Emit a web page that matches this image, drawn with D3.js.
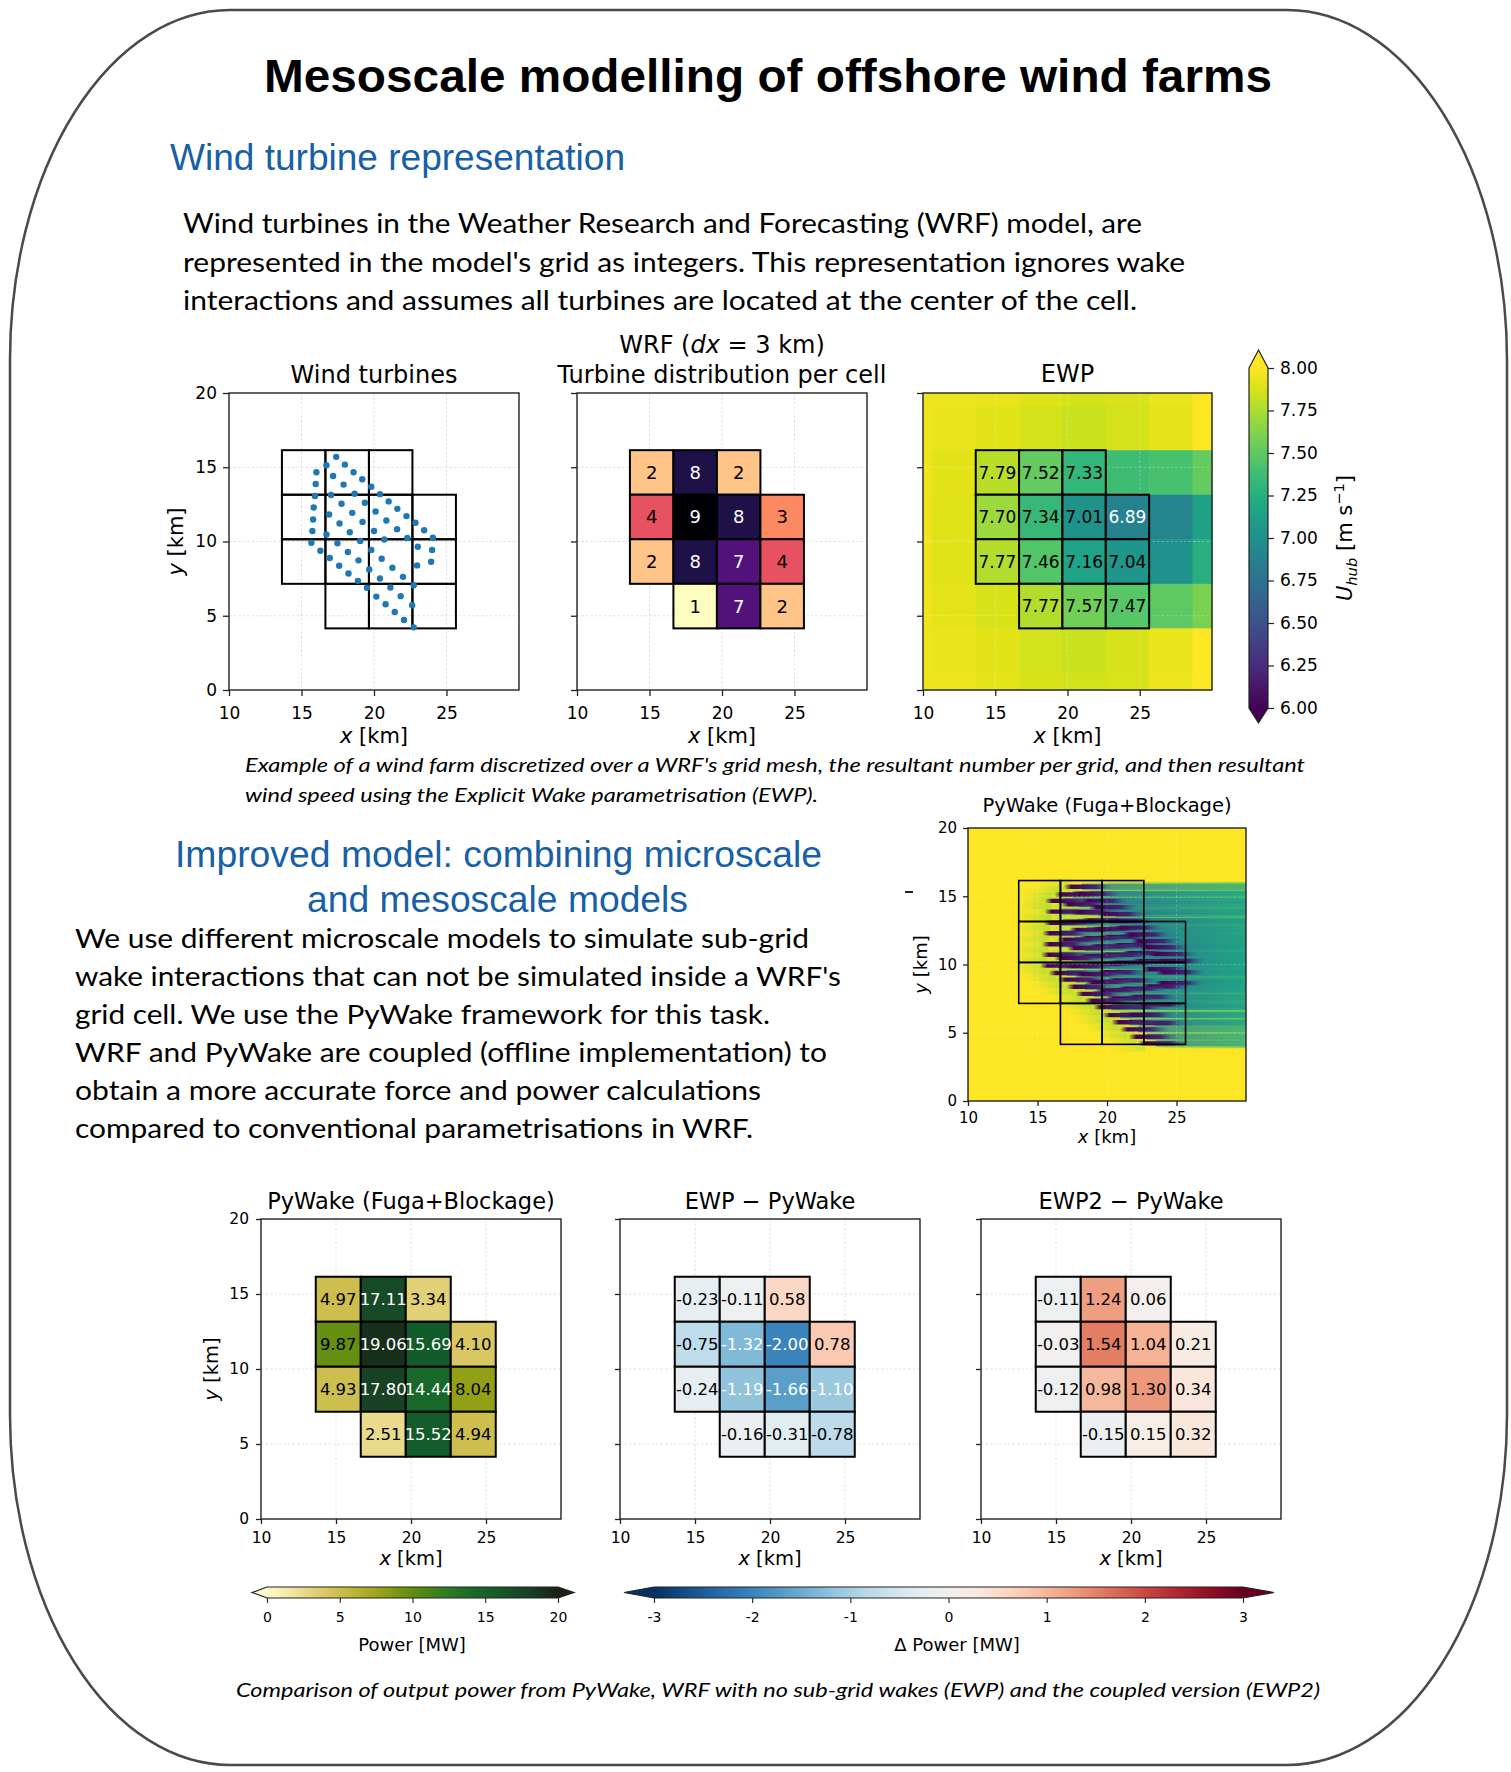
<!DOCTYPE html>
<html>
<head>
<meta charset="utf-8">
<script src="https://cdn.jsdelivr.net/npm/d3@7"></script>
<style>
  html, body { margin: 0; padding: 0; background: #fff; }
  svg { display: block; }
</style>
</head>
<body>
<svg id="poster" width="1511" height="1772"></svg>
<script>
// ---- values ----
const xTicks = [10, 15, 20, 25];
const yTicks = [0, 5, 10, 15, 20];
const gridX = [15, 20, 25];
const gridY = [5, 10, 15];

// WRF cells (3 km) : column and row edges in km, rows listed top to bottom
const cellColEdges = [13.65, 16.65, 19.65, 22.65, 25.65];
const cellRowEdges = [16.15, 13.15, 10.15, 7.15, 4.15];
const cellRow = [0, 0, 0, 1, 1, 1, 1, 2, 2, 2, 2, 3, 3, 3];
const cellCol = [0, 1, 2, 0, 1, 2, 3, 0, 1, 2, 3, 1, 2, 3];

const turbineCount = [2, 8, 2, 4, 9, 8, 3, 2, 8, 7, 4, 1, 7, 2];
const ewpSpeed = [7.79, 7.52, 7.33, 7.70, 7.34, 7.01, 6.89, 7.77, 7.46, 7.16, 7.04, 7.77, 7.57, 7.47];
const pywakePower = [4.97, 17.11, 3.34, 9.87, 19.06, 15.69, 4.10, 4.93, 17.80, 14.44, 8.04, 2.51, 15.52, 4.94];
const ewpMinusPywake = [-0.23, -0.11, 0.58, -0.75, -1.32, -2.00, 0.78, -0.24, -1.19, -1.66, -1.10, -0.16, -0.31, -0.78];
const ewp2MinusPywake = [-0.11, 1.24, 0.06, -0.03, 1.54, 1.04, 0.21, -0.12, 0.98, 1.30, 0.34, -0.15, 0.15, 0.32];

// turbine positions [km]
const turbineX = [17.39, 16.72, 17.99, 16.03, 18.59, 17.18, 19.19, 15.98, 17.90, 19.81, 15.93, 17.04, 18.66, 20.41,
  17.76, 19.37, 21.01, 15.84, 20.11, 21.61, 18.50, 16.90, 22.24, 15.80, 20.85, 19.21, 17.62, 22.86, 21.59, 20.00,
  18.33, 23.46, 15.75, 16.72, 22.30, 24.06, 20.71, 19.05, 15.68, 17.48, 23.02, 19.81, 24.01, 16.30, 18.20, 20.53,
  16.95, 18.93, 23.94, 22.97, 21.27, 19.67, 17.60, 18.24, 22.00, 20.41, 18.89, 22.74, 21.13, 19.51, 20.16, 21.84,
  22.63, 20.80, 21.43, 22.07, 22.74];
const turbineY = [15.70, 15.13, 15.18, 14.66, 14.66, 14.41, 14.19, 13.87, 13.83, 13.69, 13.06, 13.13, 13.22, 13.19,
  12.54, 12.61, 12.70, 12.29, 12.02, 12.20, 11.93, 11.82, 11.71, 11.48, 11.41, 11.32, 11.21, 11.26, 10.83, 10.71,
  10.62, 10.76, 10.71, 10.47, 10.24, 10.26, 10.13, 10.04, 9.92, 9.88, 9.65, 9.43, 9.43, 9.38, 9.29, 8.84,
  8.89, 8.73, 8.64, 8.39, 8.23, 8.12, 8.37, 7.85, 7.62, 7.51, 7.35, 7.06, 6.90, 6.88, 6.29, 6.32,
  5.71, 5.77, 5.25, 4.71, 4.22];

// EWP hub-height wind speed on the WRF mesh (rows top to bottom)
const ewpGridX = [10, 10.6, 13.65, 16.65, 19.65, 22.65, 25.65, 28.65, 30];
const ewpGridY = [20, 19.15, 16.15, 13.15, 10.15, 7.15, 4.15, 1.15, 0];
const ewpField = [
  [7.95, 7.94, 7.93, 7.90, 7.87, 7.89, 7.93, 8.00],
  [7.95, 7.93, 7.91, 7.87, 7.84, 7.87, 7.92, 8.00],
  [7.95, 7.91, 7.79, 7.52, 7.33, 7.38, 7.42, 7.52],
  [7.95, 7.90, 7.70, 7.34, 7.01, 6.89, 6.90, 7.14],
  [7.95, 7.90, 7.77, 7.46, 7.16, 7.04, 7.02, 7.26],
  [7.95, 7.92, 7.88, 7.77, 7.57, 7.47, 7.50, 7.60],
  [7.95, 7.93, 7.91, 7.86, 7.84, 7.88, 7.93, 8.00],
  [7.95, 7.94, 7.92, 7.88, 7.86, 7.89, 7.94, 8.00]
];

const speedTicks = [6.00, 6.25, 6.50, 6.75, 7.00, 7.25, 7.50, 7.75, 8.00];
const powerTicks = [0, 5, 10, 15, 20];
const deltaTicks = [-3, -2, -1, 0, 1, 2, 3];
// cmocean "speed"-like colours for power
const speedColours = ['#fefccd', '#ebd98c', '#cfbd4b', '#a3a614', '#5f8c10', '#2a7a22', '#0e642e', '#1b4628', '#172313'];

const introLines = [
  "Wind turbines in the Weather Research and Forecasting (WRF) model, are",
  "represented in the model's grid as integers. This representation ignores wake",
  "interactions and assumes all turbines are located at the center of the cell."
];
const caption1Lines = [
  "Example of a wind farm discretized over a WRF's grid mesh, the resultant number per grid, and then resultant",
  "wind speed using the Explicit Wake parametrisation (EWP)."
];
const heading2Lines = ["Improved model: combining microscale", "and mesoscale models"];
const bodyLines = [
  "We use different microscale models to simulate sub-grid",
  "wake interactions that can not be simulated inside a WRF's",
  "grid cell. We use the PyWake framework for this task.",
  "WRF and PyWake are coupled (offline implementation) to",
  "obtain a more accurate force and power calculations",
  "compared to conventional parametrisations in WRF."
];
const caption2 = "Comparison of output power from PyWake, WRF with no sub-grid wakes (EWP) and the coupled version (EWP2)";

// ---- drawing ----
const svg = d3.select('#poster');
const defs = svg.append('defs');
const MPL = '"DejaVu Sans", sans-serif';
const BODY = 'Lato, "Open Sans", sans-serif';
const HEAD = '"Liberation Sans", Arial, sans-serif';

svg.append('rect')
  .attr('x', 10).attr('y', 10).attr('width', 1497).attr('height', 1755)
  .attr('rx', 220).attr('ry', 350)
  .attr('fill', '#fff').attr('stroke', '#4a4a4a').attr('stroke-width', 2.5);

function fitText(str, x, y, width, family, size, opts = {}) {
  return svg.append('text')
    .attr('x', x).attr('y', y)
    .attr('textLength', width).attr('lengthAdjust', 'spacingAndGlyphs')
    .style('font-family', family).style('font-size', size + 'px')
    .style('font-weight', opts.bold ? 'bold' : 'normal')
    .style('font-style', opts.italic ? 'italic' : 'normal')
    .attr('fill', opts.color || '#000')
    .text(str);
}

// rich text: parts = [text, italic, dyPx, scale]
function richText(g, x, y, parts, size, anchor, transform) {
  const t = g.append('text').attr('x', x).attr('y', y)
    .attr('text-anchor', anchor || 'middle')
    .style('font-family', MPL).style('font-size', size + 'px').attr('fill', '#000');
  if (transform) t.attr('transform', transform);
  parts.forEach(p => {
    const s = t.append('tspan').text(p[0]);
    if (p[1]) s.style('font-style', 'italic');
    if (p[2]) s.attr('dy', p[2]);
    if (p[3]) s.style('font-size', (size * p[3]) + 'px');
  });
  return t;
}

// headings and text
fitText('Mesoscale modelling of offshore wind farms', 264, 92, 1008, HEAD, 47, { bold: true });
fitText('Wind turbine representation', 170, 170, 455, HEAD, 36, { color: '#175fa6' });
const introWidths = [959, 1002, 954];
introLines.forEach((l, i) => fitText(l, 183, 233 + i * 38.5, introWidths[i], BODY, 26));
const cap1Widths = [1060, 573];
caption1Lines.forEach((l, i) => fitText(l, 245, 772 + i * 30, cap1Widths[i], BODY, 19, { italic: true }));
fitText(heading2Lines[0], 175, 867, 647, HEAD, 36, { color: '#175fa6' });
fitText(heading2Lines[1], 307, 912, 381, HEAD, 36, { color: '#175fa6' });
const bodyWidths = [734, 766, 695, 752, 686, 678];
bodyLines.forEach((l, i) => fitText(l, 75, 948 + i * 38, bodyWidths[i], BODY, 26.5));
fitText(caption2, 236, 1697, 1084, BODY, 19.5, { italic: true });

// ---- panel helpers ----
function makePanel(x0, y0, w, h) {
  return {
    x: d3.scaleLinear().domain([10, 30]).range([x0, x0 + w]),
    y: d3.scaleLinear().domain([0, 20]).range([y0 + h, y0]),
    g: svg.append('g'),
    x0, y0, w, h
  };
}

function drawGrid(p, colour) {
  const gg = p.g.append('g').attr('stroke', colour).attr('stroke-width', 0.8).attr('stroke-dasharray', '2.5,2');
  gg.selectAll('line.gx').data(gridX).join('line').attr('class', 'gx')
    .attr('x1', d => p.x(d)).attr('x2', d => p.x(d)).attr('y1', p.y0).attr('y2', p.y0 + p.h);
  gg.selectAll('line.gy').data(gridY).join('line').attr('class', 'gy')
    .attr('y1', d => p.y(d)).attr('y2', d => p.y(d)).attr('x1', p.x0).attr('x2', p.x0 + p.w);
}

function cellRect(p, i) {
  const x1 = p.x(cellColEdges[cellCol[i]]), x2 = p.x(cellColEdges[cellCol[i] + 1]);
  const y1 = p.y(cellRowEdges[cellRow[i]]), y2 = p.y(cellRowEdges[cellRow[i] + 1]);
  return { x: x1, y: y1, w: x2 - x1, h: y2 - y1, cx: (x1 + x2) / 2, cy: (y1 + y2) / 2 };
}

function drawCells(p, values, fillFn, textFn, fs, fmt, lw) {
  const idx = d3.range(values.length);
  const cg = p.g.append('g');
  cg.selectAll('rect').data(idx).join('rect')
    .attr('x', i => cellRect(p, i).x).attr('y', i => cellRect(p, i).y)
    .attr('width', i => cellRect(p, i).w).attr('height', i => cellRect(p, i).h)
    .attr('fill', i => fillFn ? fillFn(values[i]) : 'none')
    .attr('stroke', '#000').attr('stroke-width', lw || 2);
  if (fmt) {
    cg.selectAll('text').data(idx).join('text')
      .attr('x', i => cellRect(p, i).cx).attr('y', i => cellRect(p, i).cy)
      .attr('dy', '0.36em').attr('text-anchor', 'middle')
      .style('font-family', MPL).style('font-size', fs + 'px')
      .attr('fill', i => textFn(values[i]))
      .text(i => fmt(values[i]));
  }
}

function drawAxes(p, o) {
  p.g.append('rect').attr('x', p.x0).attr('y', p.y0).attr('width', p.w).attr('height', p.h)
    .attr('fill', 'none').attr('stroke', '#222').attr('stroke-width', 1.4);
  const xa = p.g.append('g').attr('transform', `translate(0,${p.y0 + p.h})`)
    .call(d3.axisBottom(p.x).tickValues(xTicks).tickFormat(d3.format('d')).tickSize(o.tick).tickPadding(o.padX));
  const ya = p.g.append('g').attr('transform', `translate(${p.x0},0)`)
    .call(d3.axisLeft(p.y).tickValues(yTicks).tickFormat(o.yLabels ? d3.format('d') : () => '')
      .tickSize(o.tick).tickPadding(o.padY));
  [xa, ya].forEach(a => {
    a.select('.domain').remove();
    a.selectAll('line').attr('stroke', '#222').attr('stroke-width', 1.3);
    a.selectAll('text').attr('fill', '#000').style('font-family', MPL).style('font-size', o.fs + 'px');
  });
  const cx = p.x0 + p.w / 2;
  richText(p.g, cx, o.xlabY, [['x', true], [' [km]']], o.labFs);
  if (o.ylabX) {
    const cy = p.y0 + p.h / 2;
    richText(p.g, 0, 0, [['y', true], [' [km]']], o.labFs, 'middle', `translate(${o.ylabX},${cy}) rotate(-90)`);
  }
  (o.titles || []).forEach(t => richText(p.g, cx, t.y, t.parts, o.titleFs));
}

const viridis = v => d3.interpolateViridis(Math.max(0, Math.min(1, (v - 6) / 2)));
const magmaCount = n => d3.interpolateMagma(1 - (n - 1) / 8);
const powerColour = d3.scaleSequential(d3.interpolateRgbBasis(speedColours)).domain([0, 20]).clamp(true);
const deltaColour = d3.scaleSequential(t => d3.interpolateRdBu(1 - t)).domain([-3, 3]).clamp(true);

// ---- top row ----
const topAxis = { tick: 6, padX: 11, padY: 6, fs: 17, labFs: 21, titleFs: 24, xlabY: 743 };

const p1 = makePanel(229, 393, 290, 297);
drawGrid(p1, '#d9d9d9');
drawCells(p1, turbineCount, null, null, 0, null, 2);
p1.g.append('g').selectAll('circle').data(d3.range(turbineX.length)).join('circle')
  .attr('cx', i => p1.x(turbineX[i])).attr('cy', i => p1.y(turbineY[i]))
  .attr('r', 3.2).attr('fill', '#1f77b4');
drawAxes(p1, { ...topAxis, yLabels: true, ylabX: 183, titles: [{ y: 383, parts: [['Wind turbines']] }] });

const p2 = makePanel(577, 393, 290, 297);
drawGrid(p2, '#d9d9d9');
drawCells(p2, turbineCount, magmaCount, n => n >= 7 ? '#fff' : '#000', 18, d3.format('d'), 2);
drawAxes(p2, { ...topAxis, yLabels: false, titles: [
  { y: 353, parts: [['WRF ('], ['dx', true], [' = 3 km)']] },
  { y: 383, parts: [['Turbine distribution per cell']] }
] });

const p3 = makePanel(923, 393, 289, 297);
const bg = p3.g.append('g');
ewpField.forEach((row, r) => row.forEach((v, c) => {
  bg.append('rect')
    .attr('x', p3.x(ewpGridX[c])).attr('y', p3.y(ewpGridY[r]))
    .attr('width', p3.x(ewpGridX[c + 1]) - p3.x(ewpGridX[c]) + 0.5)
    .attr('height', p3.y(ewpGridY[r + 1]) - p3.y(ewpGridY[r]) + 0.5)
    .attr('fill', viridis(v));
}));
drawGrid(p3, 'rgba(255,255,255,0.35)');
drawCells(p3, ewpSpeed, viridis, v => v < 6.95 ? '#fff' : '#000', 17, d3.format('.2f'), 2);
drawAxes(p3, { ...topAxis, yLabels: false, titles: [{ y: 382, parts: [['EWP']] }] });

// viridis colour bar
const cbY = d3.scaleLinear().domain([6, 8]).range([708, 368]);
const vGrad = defs.append('linearGradient').attr('id', 'gViridis')
  .attr('x1', 0).attr('y1', 1).attr('x2', 0).attr('y2', 0);
d3.range(0, 1.0001, 0.05).forEach(t => vGrad.append('stop').attr('offset', t).attr('stop-color', d3.interpolateViridis(t)));
const cbx0 = 1249, cbx1 = 1268, cbm = (cbx0 + cbx1) / 2;
svg.append('rect').attr('x', cbx0).attr('y', cbY(8)).attr('width', cbx1 - cbx0).attr('height', cbY(6) - cbY(8))
  .attr('fill', 'url(#gViridis)');
svg.append('path').attr('d', `M${cbx0},${cbY(8)}L${cbm},350L${cbx1},${cbY(8)}Z`).attr('fill', d3.interpolateViridis(1));
svg.append('path').attr('d', `M${cbx0},${cbY(6)}L${cbm},723L${cbx1},${cbY(6)}Z`).attr('fill', d3.interpolateViridis(0));
svg.append('path')
  .attr('d', `M${cbx0},${cbY(8)}L${cbm},350L${cbx1},${cbY(8)}L${cbx1},${cbY(6)}L${cbm},723L${cbx0},${cbY(6)}Z`)
  .attr('fill', 'none').attr('stroke', '#222').attr('stroke-width', 1.2);
const cbAxis = svg.append('g').attr('transform', `translate(${cbx1},0)`)
  .call(d3.axisRight(cbY).tickValues(speedTicks).tickFormat(d3.format('.2f')).tickSize(6).tickPadding(6));
cbAxis.select('.domain').remove();
cbAxis.selectAll('line').attr('stroke', '#222').attr('stroke-width', 1.2);
cbAxis.selectAll('text').attr('fill', '#000').style('font-family', MPL).style('font-size', '17px');
richText(svg, 0, 0, [['U', true], ['hub', true, 5, 0.7], [' [m s', false, -5], ['\u22121', false, -8, 0.7], [']', false, 8]],
  21, 'middle', 'translate(1352,538) rotate(-90)');

// ---- PyWake flow field ----
const pm = makePanel(968, 828, 278, 273);
defs.append('clipPath').attr('id', 'clipPm').append('rect')
  .attr('x', pm.x0).attr('y', pm.y0).attr('width', pm.w).attr('height', pm.h);
const nearGrad = defs.append('linearGradient').attr('id', 'gNear');
nearGrad.append('stop').attr('offset', 0).attr('stop-color', '#440154').attr('stop-opacity', 0);
nearGrad.append('stop').attr('offset', 0.15).attr('stop-color', '#440154').attr('stop-opacity', 1);
nearGrad.append('stop').attr('offset', 0.65).attr('stop-color', '#46206f').attr('stop-opacity', 0.95);
nearGrad.append('stop').attr('offset', 1).attr('stop-color', '#2c728e').attr('stop-opacity', 0);
const blockGrad = defs.append('linearGradient').attr('id', 'gBlock');
blockGrad.append('stop').attr('offset', 0).attr('stop-color', '#a8db34').attr('stop-opacity', 0);
blockGrad.append('stop').attr('offset', 1).attr('stop-color', '#a8db34').attr('stop-opacity', 0.45);
const farGrad = defs.append('linearGradient').attr('id', 'gFar');
farGrad.append('stop').attr('offset', 0).attr('stop-color', '#2a788e').attr('stop-opacity', 0.75);
farGrad.append('stop').attr('offset', 1).attr('stop-color', '#1fa187').attr('stop-opacity', 0.6);
const halo = defs.append('linearGradient').attr('id', 'gHalo');
halo.append('stop').attr('offset', 0).attr('stop-color', '#7ad151').attr('stop-opacity', 0.0);
halo.append('stop').attr('offset', 0.3).attr('stop-color', '#7ad151').attr('stop-opacity', 0.55);
halo.append('stop').attr('offset', 1).attr('stop-color', '#5ec962').attr('stop-opacity', 0.7);

const fg = pm.g.append('g').attr('clip-path', 'url(#clipPm)');
fg.append('rect').attr('x', pm.x0).attr('y', pm.y0).attr('width', pm.w).attr('height', pm.h).attr('fill', '#fde725');
const tIdx = d3.range(turbineX.length);
// blockage upstream of each turbine
fg.append('g').selectAll('rect').data(tIdx).join('rect')
  .attr('x', i => pm.x(turbineX[i] - 2.6)).attr('width', pm.x(12.6) - pm.x(10))
  .attr('y', i => pm.y(turbineY[i] + 0.6)).attr('height', pm.y(0) - pm.y(1.2))
  .attr('fill', 'url(#gBlock)');
// wide, light wake halo
fg.append('g').selectAll('rect').data(tIdx).join('rect')
  .attr('x', i => pm.x(turbineX[i])).attr('width', i => pm.x(30) - pm.x(turbineX[i]))
  .attr('y', i => pm.y(turbineY[i] + 0.35)).attr('height', pm.y(0) - pm.y(0.7))
  .attr('fill', 'url(#gHalo)');
// far wakes
fg.append('g').selectAll('rect').data(tIdx).join('rect')
  .attr('x', i => pm.x(turbineX[i] + 0.8)).attr('width', i => pm.x(30) - pm.x(turbineX[i] + 0.8))
  .attr('y', i => pm.y(turbineY[i] + 0.22)).attr('height', pm.y(0) - pm.y(0.44))
  .attr('fill', 'url(#gFar)');
// near wakes
fg.append('g').selectAll('rect').data(tIdx).join('rect')
  .attr('x', i => pm.x(turbineX[i] - 0.5)).attr('width', pm.x(13.6) - pm.x(10))
  .attr('y', i => pm.y(turbineY[i] + 0.16)).attr('height', pm.y(0) - pm.y(0.32))
  .attr('rx', 2).attr('fill', 'url(#gNear)');
drawGrid(pm, 'rgba(255,255,255,0.25)');
drawCells(pm, turbineCount, null, null, 0, null, 1.6);
drawAxes(pm, { tick: 5, padX: 6, padY: 6, fs: 15, labFs: 18, titleFs: 19.5, xlabY: 1143, yLabels: true, ylabX: 927,
  titles: [{ y: 812, parts: [['PyWake (Fuga+Blockage)']] }] });
svg.append('line').attr('x1', 905).attr('x2', 913).attr('y1', 892).attr('y2', 892).attr('stroke', '#222').attr('stroke-width', 2);

// ---- bottom row ----
const botAxis = { tick: 5, padX: 8, padY: 7, fs: 15.5, labFs: 19.5, titleFs: 22.5, xlabY: 1565 };
const q1 = makePanel(261, 1219, 300, 300);
drawGrid(q1, '#d9d9d9');
drawCells(q1, pywakePower, powerColour, v => v > 12 ? '#fff' : '#000', 16.5, d3.format('.2f'), 2);
drawAxes(q1, { ...botAxis, yLabels: true, ylabX: 218, titles: [{ y: 1209, parts: [['PyWake (Fuga+Blockage)']] }] });

const hyph = d3.format('.2f');
const deltaFmt = v => hyph(v).replace('\u2212', '-');
const q2 = makePanel(620, 1219, 300, 300);
drawGrid(q2, '#d9d9d9');
drawCells(q2, ewpMinusPywake, deltaColour, v => v <= -1 ? '#fff' : '#000', 16.5, deltaFmt, 2);
drawAxes(q2, { ...botAxis, yLabels: false, titles: [{ y: 1209, parts: [['EWP \u2212 PyWake']] }] });

const q3 = makePanel(981, 1219, 300, 300);
drawGrid(q3, '#d9d9d9');
drawCells(q3, ewp2MinusPywake, deltaColour, v => v <= -1 ? '#fff' : '#000', 16.5, deltaFmt, 2);
drawAxes(q3, { ...botAxis, yLabels: false, titles: [{ y: 1209, parts: [['EWP2 \u2212 PyWake']] }] });

// horizontal colour bars
function hColourBar(id, scale, interp, under, over, apexL, apexR, ticks, fmt, label, labelX) {
  const [a, b] = scale.range();
  const y0 = 1587, y1 = 1598, ym = (y0 + y1) / 2;
  const grad = defs.append('linearGradient').attr('id', id);
  d3.range(0, 1.0001, 0.05).forEach(t => grad.append('stop').attr('offset', t).attr('stop-color', interp(t)));
  svg.append('rect').attr('x', a).attr('y', y0).attr('width', b - a).attr('height', y1 - y0).attr('fill', `url(#${id})`);
  svg.append('path').attr('d', `M${a},${y0}L${apexL},${ym}L${a},${y1}Z`).attr('fill', under);
  svg.append('path').attr('d', `M${b},${y0}L${apexR},${ym}L${b},${y1}Z`).attr('fill', over);
  svg.append('path').attr('d', `M${a},${y0}L${b},${y0}L${apexR},${ym}L${b},${y1}L${a},${y1}L${apexL},${ym}Z`)
    .attr('fill', 'none').attr('stroke', '#222').attr('stroke-width', 1.2);
  const ax = svg.append('g').attr('transform', `translate(0,${y1})`)
    .call(d3.axisBottom(scale).tickValues(ticks).tickFormat(fmt).tickSize(5).tickPadding(9));
  ax.select('.domain').remove();
  ax.selectAll('line').attr('stroke', '#222').attr('stroke-width', 1.1);
  ax.selectAll('text').attr('fill', '#000').style('font-family', MPL).style('font-size', '14px');
  svg.append('text').attr('x', labelX).attr('y', 1651).attr('text-anchor', 'middle')
    .style('font-family', MPL).style('font-size', '18px').attr('fill', '#000').text(label);
}
hColourBar('gPower', d3.scaleLinear().domain([0, 20]).range([267, 558]), d3.interpolateRgbBasis(speedColours),
  speedColours[0], speedColours[speedColours.length - 1], 252, 574, powerTicks, d3.format('d'), 'Power [MW]', 412);
hColourBar('gDelta', d3.scaleLinear().domain([-3, 3]).range([654, 1243]), t => d3.interpolateRdBu(1 - t),
  d3.interpolateRdBu(1), d3.interpolateRdBu(0), 624, 1274, deltaTicks, d => String(d), '\u0394 Power [MW]', 957);
</script>
</body>
</html>
